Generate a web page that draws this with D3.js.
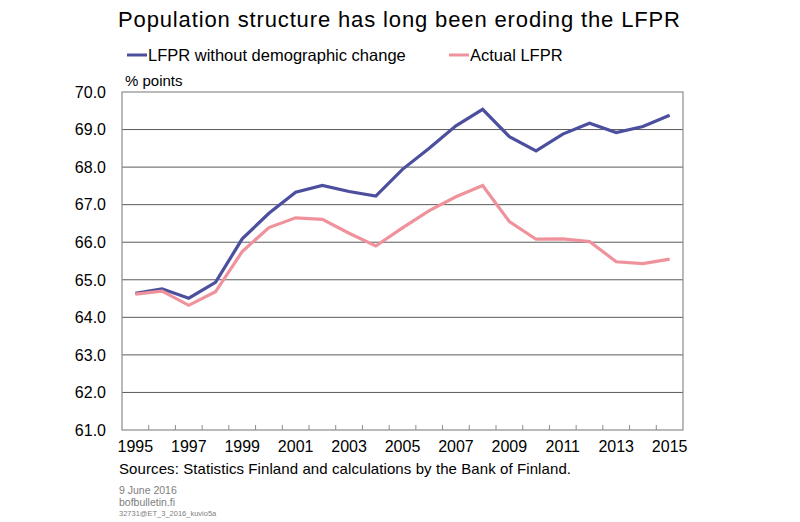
<!DOCTYPE html>
<html>
<head>
<meta charset="utf-8">
<script src="https://cdn.jsdelivr.net/npm/d3@7"></script>
<style>
  body { margin: 0; background: #fff; }
  svg { display: block; font-family: "Liberation Sans", Arial, sans-serif; }
</style>
</head>
<body>
<svg id="chart" width="800" height="522"></svg>
<script>
const years = d3.range(1995, 2016);
const lfprNoDemo = [64.64, 64.76, 64.51, 64.93, 66.09, 66.77, 67.33, 67.51, 67.35, 67.23, 67.94, 68.50, 69.10, 69.54, 68.81, 68.43, 68.88, 69.17, 68.92, 69.08, 69.38];
const lfprActual = [64.62, 64.70, 64.32, 64.68, 65.75, 66.39, 66.65, 66.61, 66.24, 65.90, 66.38, 66.84, 67.21, 67.51, 66.55, 66.08, 66.09, 66.02, 65.48, 65.43, 65.55];
const yTicks = [61, 62, 63, 64, 65, 66, 67, 68, 69, 70];
const xLabelYears = [1995, 1997, 1999, 2001, 2003, 2005, 2007, 2009, 2011, 2013, 2015];
const seriesNames = ["LFPR without demographic change", "Actual LFPR"];
const colors = ["#4b4f9e", "#f0929b"];

const svg = d3.select("#chart");
const m = { left: 122, right: 683, top: 92, bottom: 430 };

const x = d3.scaleBand().domain(years).range([m.left, m.right]);
const y = d3.scaleLinear().domain([61, 70]).range([m.bottom, m.top]);

// Title
svg.append("text").attr("x", 118).attr("y", 27)
  .attr("font-size", 22).attr("fill", "#000")
  .attr("textLength", 562).attr("lengthAdjust", "spacing")
  .text("Population structure has long been eroding the LFPR");

// Legend
const legendX = [127, 449];
seriesNames.forEach((n, i) => {
  svg.append("line").attr("x1", legendX[i]).attr("x2", legendX[i] + 20)
    .attr("y1", 55).attr("y2", 55).attr("stroke", colors[i]).attr("stroke-width", 3);
  svg.append("text").attr("x", legendX[i] + 21).attr("y", 61)
    .attr("font-size", 16.5).attr("fill", "#000").text(n);
});

// % points
svg.append("text").attr("x", 125).attr("y", 86).attr("font-size", 15).text("% points");

// Gridlines
svg.append("g").selectAll("line").data(yTicks.filter(t => t > 61 && t < 70)).join("line")
  .attr("x1", m.left).attr("x2", m.right)
  .attr("y1", d => y(d)).attr("y2", d => y(d))
  .attr("stroke", "#5a5a5a").attr("stroke-width", 1);

// Border
svg.append("rect").attr("x", m.left).attr("y", m.top)
  .attr("width", m.right - m.left).attr("height", m.bottom - m.top)
  .attr("fill", "none").attr("stroke", "#8c8c8c").attr("stroke-width", 1.2);

// Y axis labels
svg.append("g").selectAll("text").data(yTicks).join("text")
  .attr("x", 106).attr("y", d => y(d)).attr("dy", "0.36em")
  .attr("text-anchor", "end").attr("font-size", 16).text(d => d.toFixed(1));

// X ticks at band boundaries
svg.append("g").selectAll("line").data(years.slice(1)).join("line")
  .attr("x1", d => x(d)).attr("x2", d => x(d))
  .attr("y1", m.bottom).attr("y2", m.bottom - 5)
  .attr("stroke", "#8c8c8c").attr("stroke-width", 1);

// X labels
svg.append("g").selectAll("text").data(xLabelYears).join("text")
  .attr("x", d => x(d) + x.bandwidth() / 2).attr("y", 452)
  .attr("text-anchor", "middle").attr("font-size", 16).text(d => d);

// Lines
const line = d3.line().x((d, i) => x(years[i]) + x.bandwidth() / 2).y(d => y(d));
[lfprNoDemo, lfprActual].forEach((s, i) => {
  svg.append("path").datum(s).attr("d", line)
    .attr("fill", "none").attr("stroke", colors[i]).attr("stroke-width", 3.2)
    .attr("stroke-linejoin", "miter");
});

// Footer
svg.append("text").attr("x", 119).attr("y", 474).attr("font-size", 15)
  .attr("textLength", 452).attr("lengthAdjust", "spacing")
  .text("Sources: Statistics Finland and calculations by the Bank of Finland.");
svg.append("text").attr("x", 119).attr("y", 494).attr("font-size", 10.5).attr("fill", "#808080").text("9 June 2016");
svg.append("text").attr("x", 119).attr("y", 506).attr("font-size", 10.5).attr("fill", "#808080").text("bofbulletin.fi");
svg.append("text").attr("x", 119).attr("y", 516).attr("font-size", 7.5).attr("fill", "#808080").text("32731@ET_3_2016_kuvio5a");
</script>
</body>
</html>
